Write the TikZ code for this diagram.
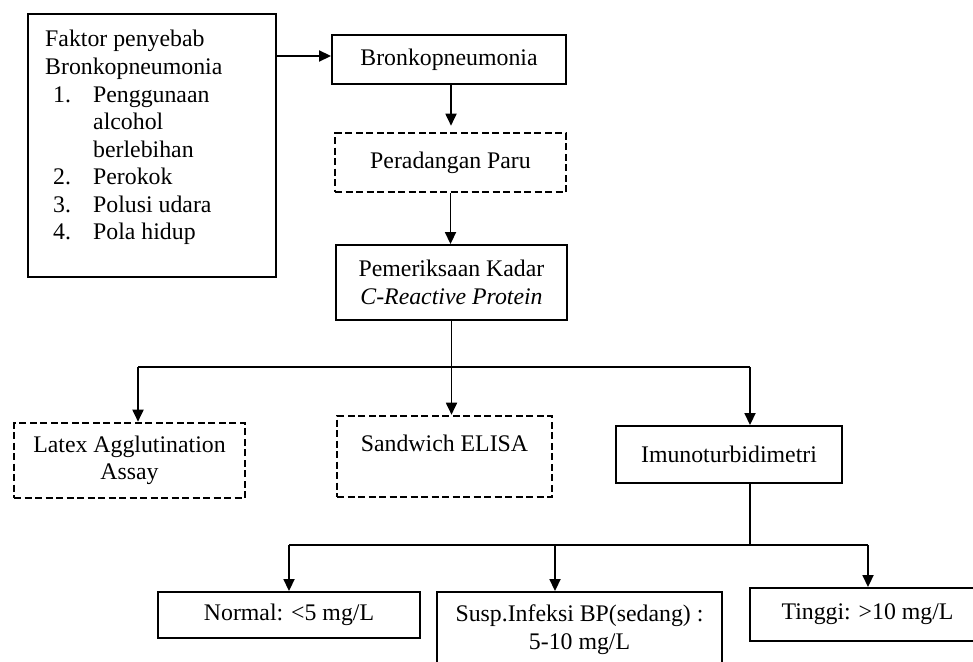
\documentclass[tikz,border=0pt]{standalone}
\usepackage{fontspec}
\setmainfont{Liberation Serif}
\usetikzlibrary{arrows.meta}
\begin{document}
\begin{tikzpicture}[x=1pt,y=-1pt,
  txt/.style={font=\fontsize{23.8}{27.5}\selectfont},
  solidbox/.style={draw, line width=1.9pt, inner sep=0pt, align=center, txt},
  dashbox/.style={draw, line width=2.6pt, dash pattern=on 7pt off 3.5pt, inner sep=0pt, align=center, txt},
  conn/.style={line width=1.5pt},
  arr/.style={line width=1.8pt, -{Triangle[length=12pt,width=11pt]}}
]
\useasboundingbox (0,0) rectangle (973,661);
\clip (0,0) rectangle (973,661);

% boxes
\node[solidbox, minimum width=248pt, minimum height=263pt] (faktor) at (152,145.5) {};
\node[anchor=base west, inner sep=0pt, txt] (ftext) at (45,47) {\parbox[t]{225pt}{%
Faktor penyebab\\
Bronkopneumonia\\
\hspace*{8pt}\makebox[40pt][l]{1.}Penggunaan\\
\hspace*{48pt}alcohol\\
\hspace*{48pt}berlebihan\\
\hspace*{8pt}\makebox[40pt][l]{2.}Perokok\\
\hspace*{8pt}\makebox[40pt][l]{3.}Polusi udara\\
\hspace*{8pt}\makebox[40pt][l]{4.}Pola hidup}};

\node[solidbox, minimum width=234pt, minimum height=49pt] (bron) at (449,59.5) {Bronkopneumonia};
\node[dashbox, minimum width=231pt, minimum height=59pt] (per) at (450.5,162.5) {Peradangan Paru};
\node[solidbox, minimum width=231pt, minimum height=75pt] (crp) at (451.5,282.5) {Pemeriksaan Kadar\\\textit{C-Reactive Protein}};

\node[dashbox, minimum width=231pt, minimum height=75pt] (latex) at (129.5,460.5) {Latex Agglutination\\Assay};
\node[dashbox, minimum width=215pt, minimum height=81pt] (sand) at (444.5,456.5) {Sandwich ELISA\\\mbox{}};
\node[solidbox, minimum width=226pt, minimum height=57pt] (imuno) at (729,454.5) {Imunoturbidimetri};

\node[solidbox, minimum width=262pt, minimum height=46pt] (normal) at (289,615) {Normal: {<}5 mg/L};
\node[solidbox, minimum width=285pt, minimum height=98pt] (susp) at (579.5,641) {Susp.Infeksi BP(sedang) :\\5-10 mg/L\\\mbox{}};
\node[solidbox, minimum width=235pt, minimum height=53pt] (tinggi) at (867.5,614.5) {Tinggi: {>}10 mg/L};

% connectors
\coordinate (bin) at ([yshift=3.5pt]bron.west);
\draw[arr] (faktor.east |- bin) -- (bin);
\coordinate (b1) at ([xshift=2pt]bron.south);
\draw[arr, shorten >=6pt] (b1) -- (b1 |- per.north);
\draw[arr] (per.south) -- (per.south |- crp.north);

\coordinate (s1) at (138,367);
\coordinate (s3) at (750,367);
\draw[conn] (crp.south) -- (crp.south |- s1);
\draw[conn] (s1) -- (s3);
\draw[arr] (s1) -- (latex.north -| s1);
\draw[arr] (crp.south |- s1) -- (sand.north -| crp.south);
\draw[arr] (s3) -- (imuno.north -| s3);

\coordinate (t1) at (289,545);
\coordinate (t2) at (555,545);
\coordinate (t3) at (868,545);
\draw[conn] (imuno.south -| s3) -- (s3 |- t1);
\draw[conn] (t1) -- (t3);
\draw[arr] (t1) -- (normal.north -| t1);
\draw[arr] (t2) -- (susp.north -| t2);
\draw[arr] (t3) -- (tinggi.north -| t3);
\end{tikzpicture}
\end{document}
